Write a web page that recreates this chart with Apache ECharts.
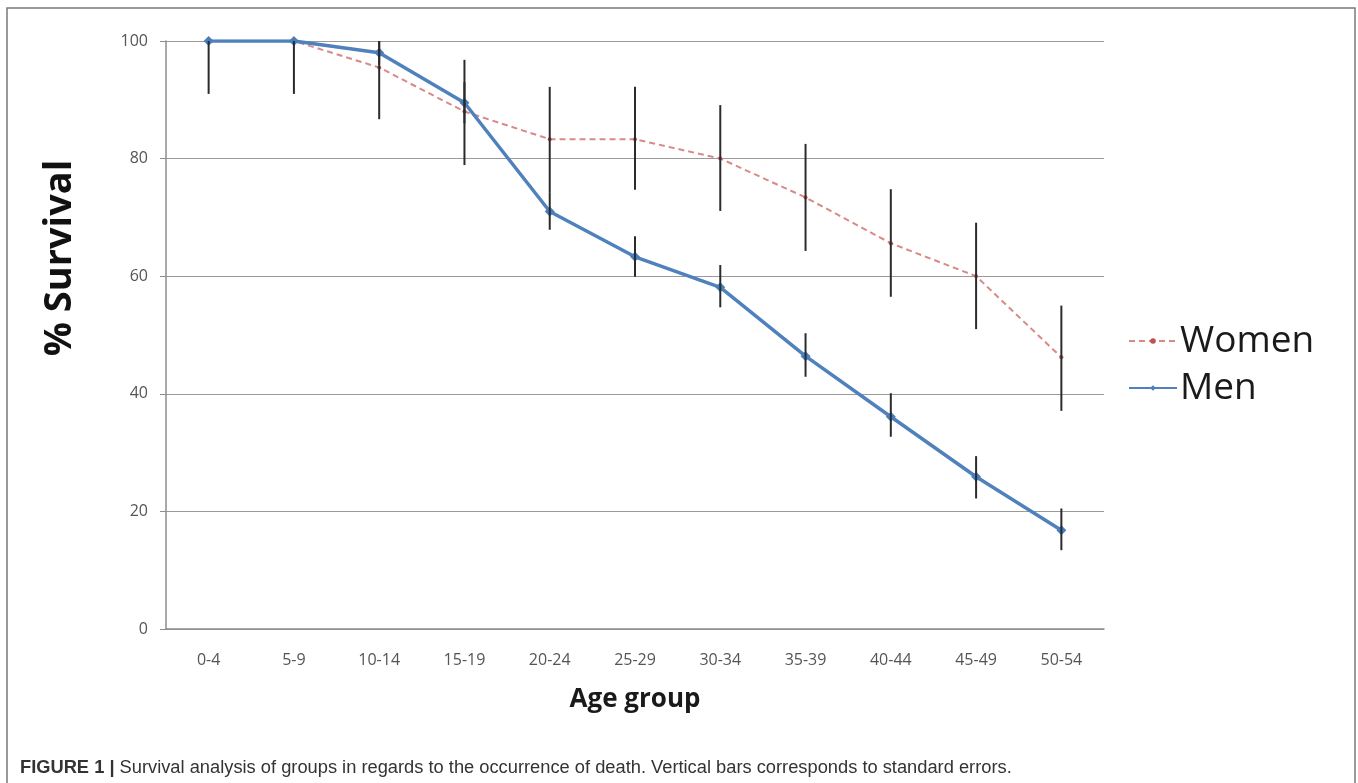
<!DOCTYPE html>
<html>
<head>
<meta charset="utf-8">
<script src="https://cdn.jsdelivr.net/npm/echarts@6/dist/echarts.min.js"></script>
<style>html,body{margin:0;padding:0;background:#fff}#c{width:1358px;height:783px}</style>
</head>
<body>
<div id="c"></div>
<script>
var categories = ['0-4','5-9','10-14','15-19','20-24','25-29','30-34','35-39','40-44','45-49','50-54'];
var women = [100, 100, 95.5, 88, 83.3, 83.3, 80, 73.4, 65.6, 60, 46.2];
var men = [100, 100, 98, 89.5, 71, 63.3, 58.1, 46.4, 36.1, 25.9, 16.8];
var womenLow = [91, 91, 86.7, 78.9, 74.3, 74.7, 71.1, 64.3, 56.5, 51.0, 37.1];
var womenHigh = [100, 100, 100, 96.8, 92.2, 92.2, 89.1, 82.5, 74.8, 69.1, 55.0];
var menLow = [100, 100, 96, 86, 67.9, 59.9, 54.7, 42.9, 32.7, 22.2, 13.4];
var menHigh = [100, 100, 100, 93, 74.3, 66.8, 61.9, 50.3, 40.1, 29.4, 20.5];
var yTicks = [0, 20, 40, 60, 80, 100];

var errData = [];
for (var i = 0; i < categories.length; i++) {
  errData.push([i, womenLow[i], womenHigh[i]]);
  errData.push([i, menLow[i], menHigh[i]]);
}

var chart = echarts.init(document.getElementById('c'), null, {renderer: 'canvas'});
chart.setOption({
  animation: false,
  backgroundColor: '#fff',
  grid: {left: 166, right: 254, top: 41, bottom: 154, containLabel: false},
  legend: {
    orient: 'vertical',
    left: 1123,
    top: 314,
    itemWidth: 48,
    itemHeight: 7,
    itemGap: 3,
    data: ['Women', 'Men'],
    textStyle: {fontFamily: 'Open Sans', fontSize: 37, color: '#1a1a1a', lineHeight: 44, padding: [0, 0, 0, -2]}
  },
  xAxis: {
    type: 'category',
    data: categories,
    boundaryGap: true,
    name: 'Age group',
    nameLocation: 'middle',
    nameGap: 58,
    nameTextStyle: {fontFamily: 'Open Sans', fontWeight: 'bold', fontSize: 26, color: '#1a1a1a'},
    axisLine: {lineStyle: {color: '#8c8c8c', width: 1.5}},
    axisTick: {show: false},
    axisLabel: {fontFamily: 'Open Sans', fontSize: 16, color: '#555', margin: 23}
  },
  yAxis: {
    type: 'value',
    min: 0, max: 100, interval: 20,
    axisLine: {show: true, lineStyle: {color: '#8c8c8c', width: 1.5}},
    axisTick: {show: true, length: 6, lineStyle: {color: '#8c8c8c'}},
    axisLabel: {fontFamily: 'Open Sans', fontSize: 16, color: '#555', margin: 18,
      formatter: function (v) { return yTicks.indexOf(v) >= 0 ? String(v) : ''; }},
    splitLine: {lineStyle: {color: '#9a9a9a', width: 1.2}}
  },
  series: [
    {
      name: 'Women',
      type: 'line',
      data: women,
      symbol: 'circle',
      symbolSize: 4,
      itemStyle: {color: '#c0504d'},
      lineStyle: {color: '#d98a87', width: 2, type: [6, 4]},
      z: 3
    },
    {
      name: 'Men',
      type: 'line',
      data: men,
      symbol: 'diamond',
      symbolSize: 10,
      itemStyle: {color: '#4a7ebb'},
      lineStyle: {color: '#4f81bd', width: 3.5},
      z: 4
    },
    {
      name: 'errors',
      type: 'custom',
      data: errData,
      z: 5,
      renderItem: function (params, api) {
        var lo = api.coord([api.value(0), api.value(1)]);
        var hi = api.coord([api.value(0), api.value(2)]);
        return {
          type: 'line',
          shape: {x1: lo[0], y1: lo[1], x2: hi[0], y2: hi[1]},
          style: {stroke: '#2b2b2b', lineWidth: 2}
        };
      }
    }
  ],
  graphic: [
    {
      type: 'rect',
      shape: {x: 7, y: 8, width: 1348, height: 820},
      style: {fill: 'none', stroke: '#7a7a7a', lineWidth: 1.5},
      silent: true
    },
    {
      type: 'text',
      x: 60,
      y: 258,
      rotation: Math.PI / 2,
      style: {
        text: '% Survival',
        fontFamily: 'Open Sans',
        fontWeight: 'bold',
        fontSize: 38,
        fill: '#111',
        align: 'center',
        verticalAlign: 'middle'
      },
      silent: true
    },
    {
      type: 'text',
      left: 20,
      top: 759,
      style: {
        text: '{b|FIGURE 1 |} Survival analysis of groups in regards to the occurrence of death. Vertical bars corresponds to standard errors.',
        rich: {
          b: {fontFamily: 'Liberation Sans', fontWeight: 'bold', fontSize: 18.3, fill: '#333'}
        },
        fontFamily: 'Liberation Sans',
        fontSize: 18.3,
        fill: '#333'
      }
    }
  ]
});
</script>
</body>
</html>
